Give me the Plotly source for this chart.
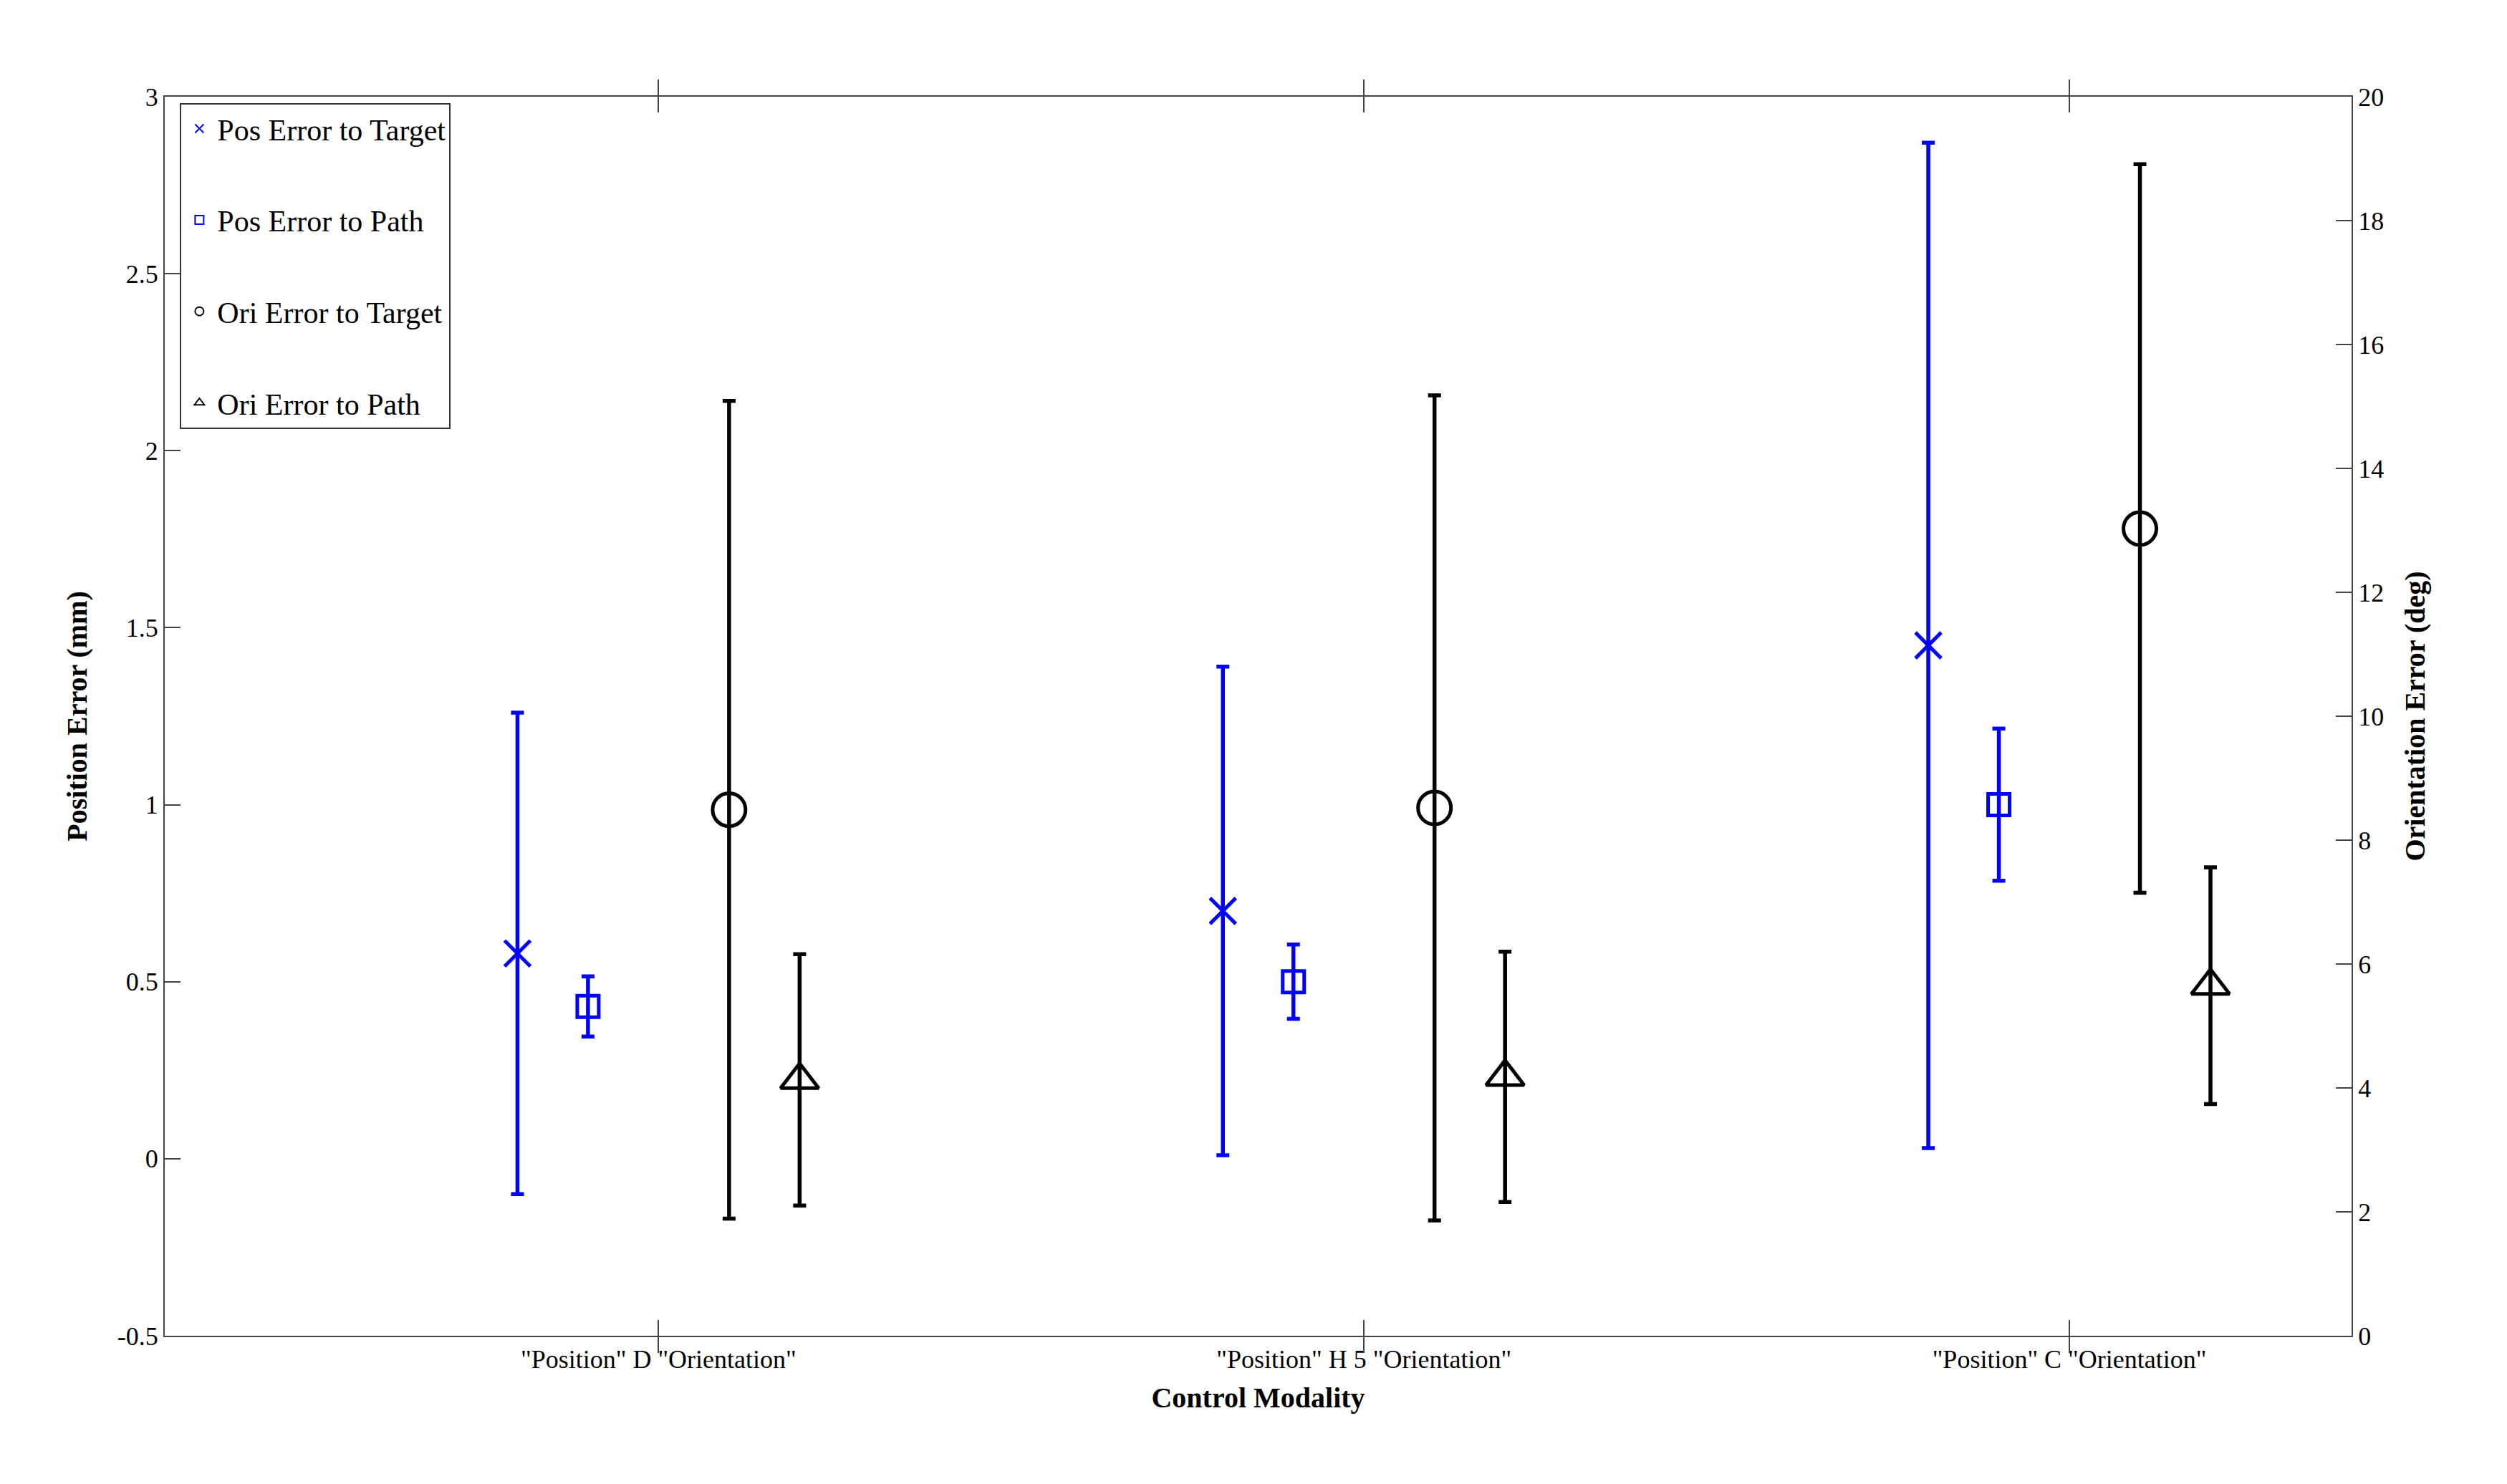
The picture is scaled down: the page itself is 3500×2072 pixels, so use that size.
import plotly.graph_objects as go

categories = ['"Position" D "Orientation"', '"Position" H 5 "Orientation"', '"Position" C "Orientation"']
cat_pos = [0, 1, 2]
pos_target = [0.58, 0.70, 1.45]
pos_target_err = [0.68, 0.69, 1.42]
pos_path = [0.43, 0.50, 1.00]
pos_path_err = [0.085, 0.105, 0.215]
ori_target = [8.49, 8.52, 13.03]
ori_target_err = [6.6, 6.66, 5.88]
ori_path = [4.13, 4.18, 5.65]
ori_path_err = [2.03, 2.02, 1.91]
offsets = [-0.2, -0.1, 0.1, 0.2]

BLUE = "#0000ff"
BLACK = "#000000"
FONT = "Liberation Serif"

def xs(off):
    return [c + off for c in cat_pos]

fig = go.Figure()
series = [
    ("Pos Error to Target", pos_target, pos_target_err, BLUE, "x-thin", "y", offsets[0], 36),
    ("Pos Error to Path", pos_path, pos_path_err, BLUE, "square-open", "y", offsets[1], 30),
    ("Ori Error to Target", ori_target, ori_target_err, BLACK, "circle-open", "y2", offsets[2], 46),
    ("Ori Error to Path", ori_path, ori_path_err, BLACK, "triangle-up-open", "y2", offsets[3], 46),
]
for i, (name, vals, errs, col, sym, ax, off, size) in enumerate(series):
    fig.add_trace(go.Scatter(
        x=xs(off), y=vals, name=name, mode="markers", yaxis=ax,
        legendgroup=f"g{i}",
        marker=dict(symbol=sym, size=size, color=col,
                    line=dict(color=col, width=5)),
        error_y=dict(type="data", array=errs, visible=True, color=col,
                     thickness=5.5, width=9),
    ))

fig.update_layout(
    width=3500, height=2072,
    paper_bgcolor="white", plot_bgcolor="white",
    margin=dict(l=222, r=225, t=127, b=215),
    font=dict(family=FONT, size=36, color="black"),
    showlegend=True,
    legend=dict(x=0.007, y=0.995, xanchor="left", yanchor="top",
                bordercolor="#333", borderwidth=2, bgcolor="white",
                font=dict(size=42, family=FONT), itemsizing="constant",
                tracegroupgap=70, itemwidth=40, entrywidth=470,
                traceorder="grouped"),
    xaxis=dict(range=[-0.7, 2.4], tickvals=cat_pos, ticktext=categories,
               ticks="inside", ticklen=22, tickwidth=2, mirror="allticks",
               showline=True, linecolor="#444", linewidth=2, showgrid=False,
               zeroline=False,
               title=dict(text="<b>Control Modality</b>", font=dict(size=40, family=FONT), standoff=20)),
    yaxis=dict(range=[-0.5, 3], tickvals=[-0.5, 0, 0.5, 1, 1.5, 2, 2.5, 3],
               ticktext=["-0.5", "0", "0.5", "1", "1.5", "2", "2.5", "3"],
               ticks="inside", ticklen=22, tickwidth=2, showline=True,
               linecolor="#444", linewidth=2, showgrid=False, zeroline=False,
               title=dict(text="<b>Position Error (mm)</b>", font=dict(size=40, family=FONT), standoff=30)),
    yaxis2=dict(range=[0, 20], tickvals=list(range(0, 21, 2)), overlaying="y",
                side="right", ticks="inside", ticklen=22, tickwidth=2,
                showline=True, linecolor="#444", linewidth=2, showgrid=False,
                zeroline=False,
                title=dict(text="<b>Orientation Error (deg)</b>", font=dict(size=40, family=FONT), standoff=30)),
)
fig.write_html("out.html")
